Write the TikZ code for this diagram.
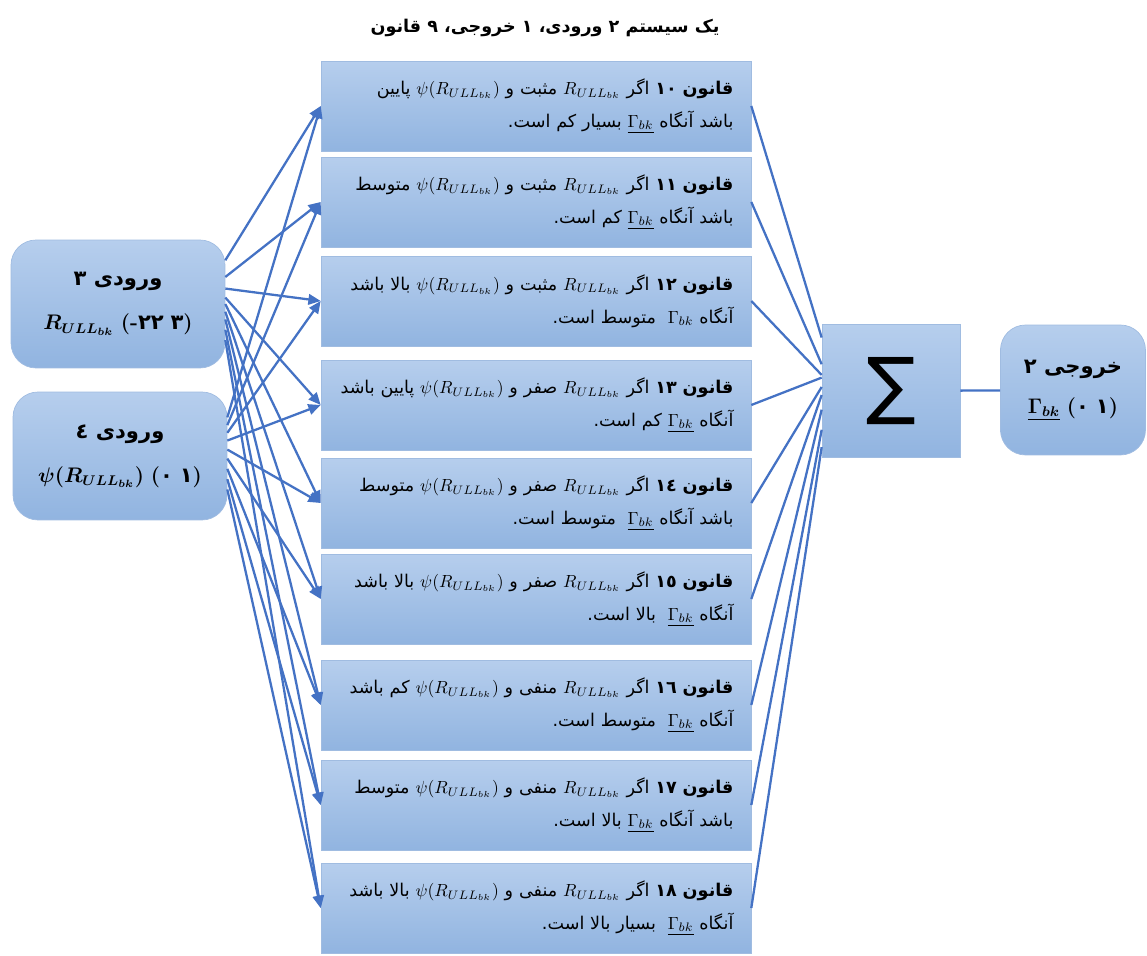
\documentclass[tikz,border=0pt]{standalone}
\usepackage{fontspec}
\usepackage{graphicx}
\usetikzlibrary{arrows.meta,calc}
\TeXXeTstate=1
\newfontfamily\arabicfont[Script=Arabic]{DejaVu Sans}
\newfontfamily\sumfont{DejaVu Sans}
\newcommand{\rtl}[1]{{\arabicfont\beginR #1\endR}}
\newcommand{\Rull}{\hbox{$R_{ULL_{bk}}$}}
\newcommand{\psiR}{\hbox{$\psi(R_{ULL_{bk}})$}}
\newcommand{\Gbk}{\hbox{$\underline{\Gamma_{bk}}$}}
\newcommand{\anum}[1]{\hbox{\arabicfont\bfseries #1}}
\definecolor{lineblue}{RGB}{68,114,196}
\definecolor{boxtop}{RGB}{182,206,237}
\definecolor{boxbot}{RGB}{145,180,224}
\definecolor{boxedge}{RGB}{160,188,225}
\begin{document}
\begin{tikzpicture}
[x=0.02cm, y=-0.02cm, >={Triangle[length=7pt,width=6pt]},
 conn/.style={draw=lineblue, line width=1.3pt},
 fillbox/.style={draw=boxedge, top color=boxtop, bottom color=boxbot, font=\fontsize{10}{18.7}\selectfont},
 rulebox/.style={fillbox, minimum width=8.6cm, minimum height=1.8cm, text width=7.9cm, align=right, inner xsep=0.35cm},
 inbox/.style={fillbox, rounded corners=0.5cm, minimum width=4.28cm, minimum height=2.56cm, align=center, font=\fontsize{12}{14}\selectfont},
 sumbox/.style={fillbox, minimum width=2.76cm, minimum height=2.66cm}]
\useasboundingbox (0,0) rectangle (1147,956);
\node[font=\fontsize{10}{12}\selectfont] (title) at (545,28) {\rtl{\bfseries یک سیستم ٢ ورودی، ١ خروجی، ٩ قانون}};
\node[inbox] (in3) at (118,304) {\rtl{\bfseries ورودی ٣}\\[11pt] {\boldmath$R_{ULL_{bk}}$} \hbox{\bfseries(}\hbox{\bfseries-}\anum{٢٢}~\anum{٣}\hbox{\bfseries)}};
\node[inbox] (in4) at (120,456) {\rtl{\bfseries ورودی ٤}\\[11pt] {\boldmath$\psi(R_{ULL_{bk}})$} \hbox{\bfseries(}\anum{٠}~\anum{١}\hbox{\bfseries)}};
\node[rulebox] (r10) at (536,106) {\rtl{\textbf{قانون ١٠} اگر \Rull{} مثبت و \psiR{} پایین}\\\rtl{باشد آنگاه \Gbk{} بسیار کم است.}};
\node[rulebox] (r11) at (536,202) {\rtl{\textbf{قانون ١١} اگر \Rull{} مثبت و \psiR{} متوسط}\\\rtl{باشد آنگاه \Gbk{} کم است.}};
\node[rulebox] (r12) at (536,301) {\rtl{\textbf{قانون ١٢} اگر \Rull{} مثبت و \psiR{} بالا باشد}\\\rtl{آنگاه \hbox{$\Gamma_{bk}$} \ متوسط است.}};
\node[rulebox] (r13) at (536,405) {\rtl{\textbf{قانون ١٣} اگر \Rull{} صفر و \psiR{} پایین باشد}\\\rtl{آنگاه \Gbk{} کم است.}};
\node[rulebox] (r14) at (536,503) {\rtl{\textbf{قانون ١٤} اگر \Rull{} صفر و \psiR{} متوسط}\\\rtl{باشد آنگاه \Gbk{} \ متوسط است.}};
\node[rulebox] (r15) at (536,599) {\rtl{\textbf{قانون ١٥} اگر \Rull{} صفر و \psiR{} بالا باشد}\\\rtl{آنگاه \Gbk{} \ بالا است.}};
\node[rulebox] (r16) at (536,705) {\rtl{\textbf{قانون ١٦} اگر \Rull{} منفی و \psiR{} کم باشد}\\\rtl{آنگاه \Gbk{} \ متوسط است.}};
\node[rulebox] (r17) at (536,805) {\rtl{\textbf{قانون ١٧} اگر \Rull{} منفی و \psiR{} متوسط}\\\rtl{باشد آنگاه \Gbk{} بالا است.}};
\node[rulebox] (r18) at (536,908) {\rtl{\textbf{قانون ١٨} اگر \Rull{} منفی و \psiR{} بالا باشد}\\\rtl{آنگاه \Gbk{} \ بسیار بالا است.}};
\node[sumbox, font=\fontsize{42}{42}\sumfont] (sum) at (891,391) {\raisebox{3pt}{∑}};
\node[inbox, minimum width=2.9cm, minimum height=2.6cm] (out) at (1073,390) {\rtl{\bfseries خروجی ٢}\\[9pt] {\boldmath$\underline{\Gamma_{bk}}$} \hbox{\bfseries(}\anum{٠}~\anum{١}\hbox{\bfseries)}};
% input 3 to rules
\draw[conn,->] ($(in3.north east)!0.16!(in3.south east)$) -- (r10.west);
\draw[conn,->] ($(in3.north east)!0.29!(in3.south east)$) -- (r11.west);
\draw[conn,->] ($(in3.north east)!0.38!(in3.south east)$) -- (r12.west);
\draw[conn,->] ($(in3.north east)!0.45!(in3.south east)$) -- (r13.west);
\draw[conn,->] ($(in3.north east)!0.5!(in3.south east)$) -- (r14.west);
\draw[conn,->] ($(in3.north east)!0.56!(in3.south east)$) -- (r15.west);
\draw[conn,->] ($(in3.north east)!0.62!(in3.south east)$) -- (r16.west);
\draw[conn,->] ($(in3.north east)!0.7!(in3.south east)$) -- (r17.west);
\draw[conn,->] ($(in3.north east)!0.78!(in3.south east)$) -- (r18.west);
% input 4 to rules
\draw[conn,->] ($(in4.north east)!0.2!(in4.south east)$) -- (r10.west);
\draw[conn,->] ($(in4.north east)!0.26!(in4.south east)$) -- (r11.west);
\draw[conn,->] ($(in4.north east)!0.32!(in4.south east)$) -- (r12.west);
\draw[conn,->] ($(in4.north east)!0.38!(in4.south east)$) -- (r13.west);
\draw[conn,->] ($(in4.north east)!0.45!(in4.south east)$) -- (r14.west);
\draw[conn,->] ($(in4.north east)!0.52!(in4.south east)$) -- (r15.west);
\draw[conn,->] ($(in4.north east)!0.6!(in4.south east)$) -- (r16.west);
\draw[conn,->] ($(in4.north east)!0.68!(in4.south east)$) -- (r17.west);
\draw[conn,->] ($(in4.north east)!0.76!(in4.south east)$) -- (r18.west);
% rules to sum
\draw[conn] (r10.east) -- ($(sum.north west)!0.1!(sum.south west)$);
\draw[conn] (r11.east) -- ($(sum.north west)!0.3!(sum.south west)$);
\draw[conn] (r12.east) -- ($(sum.north west)!0.38!(sum.south west)$);
\draw[conn] (r13.east) -- ($(sum.north west)!0.4!(sum.south west)$);
\draw[conn] (r14.east) -- ($(sum.north west)!0.47!(sum.south west)$);
\draw[conn] (r15.east) -- ($(sum.north west)!0.53!(sum.south west)$);
\draw[conn] (r16.east) -- ($(sum.north west)!0.64!(sum.south west)$);
\draw[conn] (r17.east) -- ($(sum.north west)!0.79!(sum.south west)$);
\draw[conn] (r18.east) -- ($(sum.north west)!0.92!(sum.south west)$);
\draw[conn] (sum) -- (out);
\end{tikzpicture}
\end{document}
